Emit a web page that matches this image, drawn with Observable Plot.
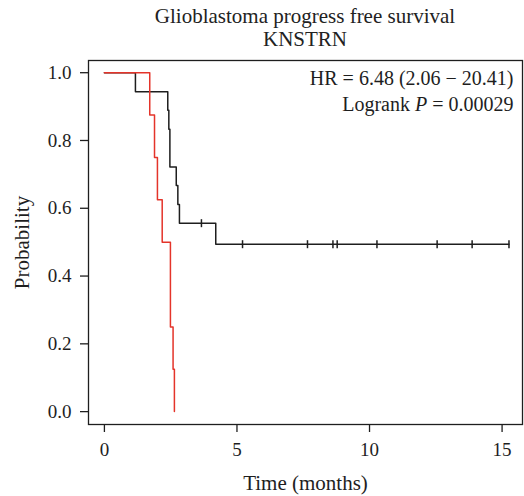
<!DOCTYPE html>
<html>
<head>
<meta charset="utf-8">
<script src="https://cdn.jsdelivr.net/npm/d3@7"></script>
<script src="https://cdn.jsdelivr.net/npm/@observablehq/plot@0.6"></script>
<style>
  body { margin: 0; background: #fff; font-family: "Liberation Serif", "DejaVu Serif", serif; }
  #title { margin-left: 88px; width: 434px; height: 52px; text-align: center; font-size: 21px; line-height: 23px; padding-top: 5px; box-sizing: border-box; color: #222; }
</style>
</head>
<body>
<div id="title">Glioblastoma progress free survival<br>KNSTRN</div>
<div id="chart"></div>
<script>
// Low expression group (black): step points (time, survival)
const blackTime = [0, 1.17, 2.39, 2.43, 2.47, 2.71, 2.77, 2.83, 4.2, 15.26];
const blackSurv = [1, 0.944, 0.889, 0.833, 0.722, 0.667, 0.611, 0.556, 0.494, 0.494];
// Censored observations (black)
const censorTime = [3.66, 5.21, 7.66, 8.62, 8.78, 10.28, 12.55, 13.87, 15.26];
const censorSurv = [0.556, 0.494, 0.494, 0.494, 0.494, 0.494, 0.494, 0.494, 0.494];
// High expression group (red)
const redTime = [0, 1.71, 1.89, 2.0, 2.18, 2.49, 2.59, 2.64];
const redSurv = [1, 0.875, 0.75, 0.625, 0.5, 0.25, 0.125, 0];

const xTicks = [0, 5, 10, 15];
const yTicks = [0, 0.2, 0.4, 0.6, 0.8, 1.0];
const hrText = "HR = 6.48 (2.06 \u2212 20.41)";
const pText = "Logrank P = 0.00029";
const xLabel = "Time (months)";
const yLabel = "Probability";

const black = blackTime.map((t, i) => ({t, s: blackSurv[i]}));
const red = redTime.map((t, i) => ({t, s: redSurv[i]}));
const cens = censorTime.map((t, i) => ({t, s: censorSurv[i]}));

const vbar = {
  draw(ctx, size) {
    const r = Math.sqrt(size / Math.PI);
    ctx.moveTo(0, -r);
    ctx.lineTo(0, r);
  }
};

const ink = "#1e1e1e";
const plot = Plot.plot({
  width: 524,
  height: 444,
  marginTop: 8,
  marginBottom: 72,
  marginLeft: 88,
  marginRight: 2,
  style: {fontFamily: "Liberation Serif", fontSize: "19px", color: ink, background: "#fff"},
  x: {domain: [-0.6, 15.77]},
  y: {domain: [-0.038, 1.036]},
  marks: [
    Plot.frame({stroke: ink, strokeWidth: 1.3}),
    Plot.axisX({ticks: xTicks, tickSize: 8, tickPadding: 10, label: null, fontSize: 19, strokeWidth: 1.3}),
    Plot.axisY({ticks: yTicks, tickFormat: d3.format(".1f"), tickSize: 8, tickPadding: 9, label: null, fontSize: 19, strokeWidth: 1.3}),
    Plot.line(black, {x: "t", y: "s", curve: "step-after", stroke: ink, strokeWidth: 1.5}),
    Plot.line(red, {x: "t", y: "s", curve: "step-after", stroke: "#e4342a", strokeWidth: 1.5}),
    Plot.dot(cens, {x: "t", y: "s", symbol: vbar, r: 4, stroke: ink, strokeWidth: 1.5}),
    Plot.text([hrText], {frameAnchor: "top-right", dx: -9, dy: 24.3, lineAnchor: "bottom", textAnchor: "end", fontSize: 20, fill: ink}),
    Plot.text([pText], {frameAnchor: "top-right", dx: -9, dy: 50, lineAnchor: "bottom", textAnchor: "end", fontSize: 20, fill: ink}),
    Plot.text([xLabel], {frameAnchor: "bottom", dy: 59, lineAnchor: "middle", textAnchor: "middle", fontSize: 21, fill: ink}),
    Plot.text([yLabel], {frameAnchor: "left", dx: -66, rotate: -90, lineAnchor: "middle", textAnchor: "middle", fontSize: 21, fill: ink})
  ]
});
document.getElementById("chart").appendChild(plot);

// italicise the P in the logrank annotation
const svg = d3.select(plot);
svg.selectAll("text").each(function () {
  if (this.textContent === pText) {
    const el = d3.select(this);
    el.text(null);
    el.append("tspan").text("Logrank ");
    el.append("tspan").attr("font-style", "italic").text("P");
    el.append("tspan").text(" = 0.00029");
  }
});
</script>
</body>
</html>
